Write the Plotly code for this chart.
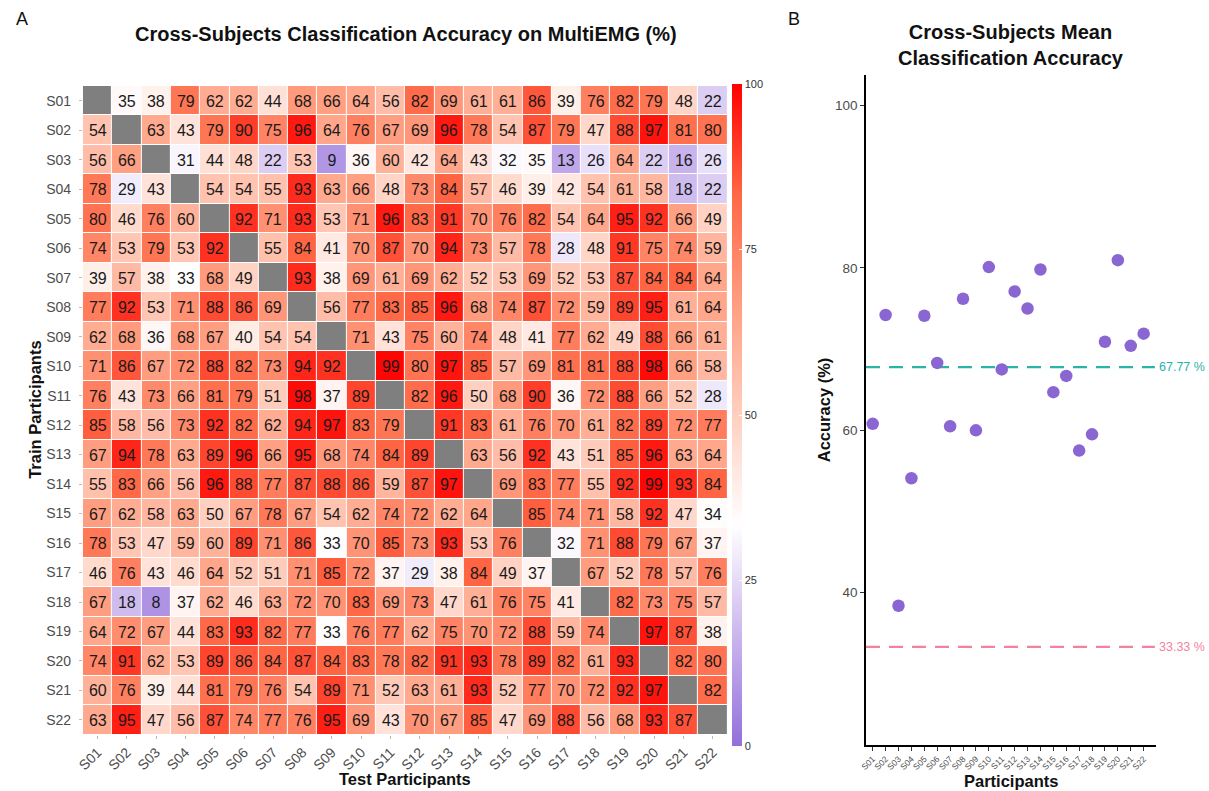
import plotly.graph_objects as go

participants = [f"S{i:02d}" for i in range(1, 23)]

# Train (rows) x Test (columns) accuracy, diagonal = None
acc = [
    [None, 35, 38, 79, 62, 62, 44, 68, 66, 64, 56, 82, 69, 61, 61, 86, 39, 76, 82, 79, 48, 22],
    [54, None, 63, 43, 79, 90, 75, 96, 64, 76, 67, 69, 96, 78, 54, 87, 79, 47, 88, 97, 81, 80],
    [56, 66, None, 31, 44, 48, 22, 53, 9, 36, 60, 42, 64, 43, 32, 35, 13, 26, 64, 22, 16, 26],
    [78, 29, 43, None, 54, 54, 55, 93, 63, 66, 48, 73, 84, 57, 46, 39, 42, 54, 61, 58, 18, 22],
    [80, 46, 76, 60, None, 92, 71, 93, 53, 71, 96, 83, 91, 70, 76, 82, 54, 64, 95, 92, 66, 49],
    [74, 53, 79, 53, 92, None, 55, 84, 41, 70, 87, 70, 94, 73, 57, 78, 28, 48, 91, 75, 74, 59],
    [39, 57, 38, 33, 68, 49, None, 93, 38, 69, 61, 69, 62, 52, 53, 69, 52, 53, 87, 84, 84, 64],
    [77, 92, 53, 71, 88, 86, 69, None, 56, 77, 83, 85, 96, 68, 74, 87, 72, 59, 89, 95, 61, 64],
    [62, 68, 36, 68, 67, 40, 54, 54, None, 71, 43, 75, 60, 74, 48, 41, 77, 62, 49, 88, 66, 61],
    [71, 86, 67, 72, 88, 82, 73, 94, 92, None, 99, 80, 97, 85, 57, 69, 81, 81, 88, 98, 66, 58],
    [76, 43, 73, 66, 81, 79, 51, 98, 37, 89, None, 82, 96, 50, 68, 90, 36, 72, 88, 66, 52, 28],
    [85, 58, 56, 73, 92, 82, 62, 94, 97, 83, 79, None, 91, 83, 61, 76, 70, 61, 82, 89, 72, 77],
    [67, 94, 78, 63, 89, 96, 66, 95, 68, 74, 84, 89, None, 63, 56, 92, 43, 51, 85, 96, 63, 64],
    [55, 83, 66, 56, 96, 88, 77, 87, 88, 86, 59, 87, 97, None, 69, 83, 77, 55, 92, 99, 93, 84],
    [67, 62, 58, 63, 50, 67, 78, 67, 54, 62, 74, 72, 62, 64, None, 85, 74, 71, 58, 92, 47, 34],
    [78, 53, 47, 59, 60, 89, 71, 86, 33, 70, 85, 73, 93, 53, 76, None, 32, 71, 88, 79, 67, 37],
    [46, 76, 43, 46, 64, 52, 51, 71, 85, 72, 37, 29, 38, 84, 49, 37, None, 67, 52, 78, 57, 76],
    [67, 18, 8, 37, 62, 46, 63, 72, 70, 83, 69, 73, 47, 61, 76, 75, 41, None, 82, 73, 75, 57],
    [64, 72, 67, 44, 83, 93, 82, 77, 33, 76, 77, 62, 75, 70, 72, 88, 59, 74, None, 97, 87, 38],
    [74, 91, 62, 53, 89, 86, 84, 87, 84, 83, 78, 82, 91, 93, 78, 89, 82, 61, 93, None, 82, 80],
    [60, 76, 39, 44, 81, 79, 76, 54, 89, 71, 52, 63, 61, 93, 52, 77, 70, 72, 92, 97, None, 82],
    [63, 95, 47, 56, 87, 74, 77, 76, 95, 69, 43, 70, 67, 85, 47, 69, 88, 56, 68, 93, 87, None],
]

mean_acc = [60.8, 74.2, 38.4, 54.1, 74.1, 68.3, 60.5, 76.2, 60.0, 80.1, 67.5,
            77.1, 75.0, 79.8, 64.7, 66.7, 57.5, 59.5, 70.9, 80.95, 70.4, 71.9]
overall_mean = 67.77
chance_level = 33.33

W, H = 1209, 791
def px(x): return x / W
def py(y): return 1 - y / H

FONT = "Liberation Sans, Arial, Helvetica, sans-serif"
TEAL = "#2AB3A8"
PINK = "#F4829F"

colorscale = [
    [0.0, "#9370DB"], [0.1667, "#CBB6EE"], [0.3333, "#FFFFFF"],
    [0.5, "#FFCFBF"], [0.6667, "#FF9E81"], [0.8333, "#FF6846"], [1.0, "#FF0000"],
]

text = [["" if v is None else str(v) for v in row] for row in acc]
diag = [[1 if i == j else None for j in range(22)] for i in range(22)]

fig = go.Figure()
fig.add_trace(go.Heatmap(
    z=diag, x=participants, y=participants,
    colorscale=[[0, "#7F7F7F"], [1, "#7F7F7F"]], showscale=False,
    xgap=1, ygap=1, hoverinfo="skip", xaxis="x", yaxis="y",
))
fig.add_trace(go.Heatmap(
    z=acc, x=participants, y=participants, text=text, texttemplate="%{text}",
    textfont=dict(family=FONT, size=16, color="#1a1a1a"),
    colorscale=colorscale, zmin=0, zmax=100, xgap=1, ygap=1,
    xaxis="x", yaxis="y",
    colorbar=dict(
        x=px(729), xanchor="left", y=py(415), yanchor="middle",
        lenmode="pixels", len=662, thickness=10, xpad=0, ypad=0,
        outlinewidth=0, tickvals=[0, 25, 50, 75, 100],
        ticks="inside", ticklen=3, tickcolor="white",
        tickfont=dict(family=FONT, size=11, color="#333333"),
    ),
))

fig.add_trace(go.Scatter(
    x=participants, y=mean_acc, mode="markers",
    marker=dict(size=12.5, color="#8A66D2"),
    xaxis="x2", yaxis="y2", showlegend=False,
))

shapes = []
for val, col in [(overall_mean, TEAL), (chance_level, PINK)]:
    shapes.append(dict(type="line", xref="x2 domain", yref="y2", x0=0, x1=0.995,
                       y0=val, y1=val, line=dict(color=col, width=2.2, dash="14px,9px"),
                       layer="below"))

annotations = [
    dict(text="A", x=px(15), y=py(19), xref="paper", yref="paper", xanchor="center",
         yanchor="middle", showarrow=False, font=dict(family=FONT, size=18, color="#111")),
    dict(text="B", x=px(792), y=py(19), xref="paper", yref="paper", xanchor="center",
         yanchor="middle", showarrow=False, font=dict(family=FONT, size=18, color="#111")),
    dict(text="<b>Cross-Subjects Classification Accuracy on MultiEMG (%)</b>", x=px(401), y=py(34),
         xref="paper", yref="paper", xanchor="center", yanchor="middle", showarrow=False,
         font=dict(family=FONT, size=20, color="#111")),
    dict(text="<b>Cross-Subjects Mean<br>Classification Accuracy</b>", x=px(1010), y=py(45),
         xref="paper", yref="paper", xanchor="center", yanchor="middle", showarrow=False,
         font=dict(family=FONT, size=20, color="#111")),
    dict(text="<b>Test Participants</b>", x=px(400), y=py(779), xref="paper", yref="paper",
         xanchor="center", yanchor="middle", showarrow=False, font=dict(family=FONT, size=16.5, color="#111")),
    dict(text="<b>Train Participants</b>", x=px(28), y=py(410), xref="paper", yref="paper",
         xanchor="center", yanchor="middle", textangle=-90, showarrow=False,
         font=dict(family=FONT, size=16.5, color="#111")),
    dict(text="<b>Participants</b>", x=px(1010), y=py(781), xref="paper", yref="paper",
         xanchor="center", yanchor="middle", showarrow=False, font=dict(family=FONT, size=16.5, color="#111")),
    dict(text="<b>Accuracy (%)</b>", x=px(822), y=py(410), xref="paper", yref="paper",
         xanchor="center", yanchor="middle", textangle=-90, showarrow=False,
         font=dict(family=FONT, size=16.5, color="#111")),
    dict(text=f"{overall_mean:.2f} %", x=1, y=overall_mean, xref="x2 domain", yref="y2",
         xanchor="left", yanchor="middle", xshift=1, showarrow=False,
         font=dict(family=FONT, size=12.5, color=TEAL)),
    dict(text=f"{chance_level:.2f} %", x=1, y=chance_level, xref="x2 domain", yref="y2",
         xanchor="left", yanchor="middle", xshift=1, showarrow=False,
         font=dict(family=FONT, size=12.5, color=PINK)),
]

fig.update_layout(
    width=W, height=H, margin=dict(l=0, r=0, t=0, b=0),
    paper_bgcolor="white", plot_bgcolor="white", showlegend=False,
    font=dict(family=FONT),
    annotations=annotations, shapes=shapes,
    xaxis=dict(domain=[px(76.3), px(724.7)], anchor="y", type="category",
               categoryorder="array", categoryarray=participants,
               tickangle=-45, tickfont=dict(family=FONT, size=14, color="#4d4d4d"),
               ticks="outside", ticklen=3, tickcolor="#bbbbbb", showgrid=False,
               zeroline=False, showline=False),
    yaxis=dict(domain=[py(734.7), py(86)], anchor="x", type="category",
               categoryorder="array", categoryarray=participants[::-1],
               tickfont=dict(family=FONT, size=14, color="#4d4d4d"),
               ticks="outside", ticklen=3, tickcolor="#bbbbbb", ticklabelstandoff=5,
               showgrid=False, zeroline=False, showline=False),
    xaxis2=dict(domain=[px(864), px(1156)], anchor="y2", type="category",
                categoryorder="array", categoryarray=participants, range=[-0.52, 21.98],
                tickangle=-45, tickfont=dict(family=FONT, size=8.5, color="#4d4d4d"),
                ticks="outside", ticklen=4, tickcolor="#333", showgrid=False, zeroline=False,
                showline=True, linecolor="black", linewidth=1.5),
    yaxis2=dict(domain=[py(745), py(75)], anchor="x2", range=[21.25, 103.75],
                tickvals=[40, 60, 80, 100], tickfont=dict(family=FONT, size=13.5, color="#4d4d4d"),
                ticks="outside", ticklen=4, tickcolor="#333", showgrid=False, zeroline=False,
                showline=True, linecolor="black", linewidth=1.5),
)

fig.write_html("out.html")
